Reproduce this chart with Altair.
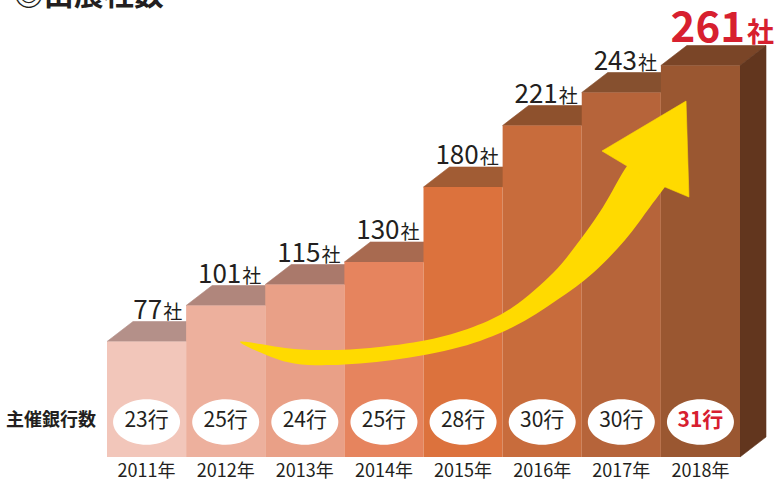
import altair as alt
import pandas as pd

# ---------------- data ----------------
years = ["2011年", "2012年", "2013年", "2014年", "2015年", "2016年", "2017年", "2018年"]
companies = [77, 101, 115, 130, 180, 221, 243, 261]
banks = [23, 25, 24, 25, 28, 30, 30, 31]
title_text = "◎出展社数"
bank_row_label = "主催銀行数"
company_unit = "社"
bank_unit = "行"

# decorative arrow outline, in chart units (bar index, company count)
# shaft: outer edge from tail into the head, then inner edge back
shaft_u = [1.681, 2.275, 2.818, 3.615, 4.461, 5.131, 5.687, 6.142, 6.547, 6.863, 7.052, 7.216,
           6.799, 6.572, 6.269, 5.978, 5.637, 5.131, 4.626, 4.044, 3.324, 2.692, 2.250]
shaft_v = [76.7, 63.3, 61.3, 64.7, 73.3, 86.7, 104.7, 122.7, 144.7, 166.7, 180.0, 192.7,
           206.0, 194.0, 166.7, 144.7, 122.7, 100.0, 86.7, 78.0, 72.7, 71.3, 72.7]
head_u = [7.052, 7.355, 7.318, 6.256, 6.572]
head_v = [180.0, 173.3, 237.3, 204.0, 194.0]

# ---------------- styles ----------------
front_colors = ["#F2C6BA", "#EDB09D", "#E9A087", "#E6845E", "#DC723D", "#C86C3C", "#B6643A", "#9A5731"]
top_colors = ["#B49089", "#B0867C", "#AA796B", "#A86A50", "#A15C34", "#8E512D", "#86502F", "#7A4527"]
side_color = "#62361E"
arrow_color = "#FFDA00"
red = "#D7202F"
ink = "#231F20"
FONT = "Noto Sans CJK JP"

# ---------------- geometry ----------------
W, H = 776, 481
X_PX0, BAR_PX, BASE_PX, PX_PER_UNIT = 107.0, 79.125, 457.0, 1.5
DEPTH_X = 26 / BAR_PX
DEPTH_Y = 20 / PX_PER_UNIT
xs = alt.Scale(domain=[-X_PX0 / BAR_PX, (W - X_PX0) / BAR_PX], nice=False, zero=False)
ys = alt.Scale(domain=[-(H - BASE_PX) / PX_PER_UNIT, BASE_PX / PX_PER_UNIT], nice=False, zero=False)


def X(f):
    return alt.X(f, type="quantitative", scale=xs, axis=None)


def Y(f):
    return alt.Y(f, type="quantitative", scale=ys, axis=None, stack=None)


def polygon(xs_, ys_, color, interp="linear-closed", sw=0.6):
    df = pd.DataFrame({"k": list(range(len(xs_))), "x": xs_, "y": ys_})
    return alt.Chart(df).mark_line(
        fill=color, stroke=color, strokeWidth=sw, interpolate=interp
    ).encode(x=X("x"), y=Y("y"), order="k:Q")


n = len(years)

# top faces and side face (3D look)
face_layers = []
for i, t in enumerate(companies):
    face_layers.append(polygon(
        [i, i + 1, i + 1 + DEPTH_X, i + DEPTH_X],
        [t, t, t + DEPTH_Y, t + DEPTH_Y],
        top_colors[i],
    ))
last_t = companies[-1]
face_layers.append(polygon(
    [n, n + DEPTH_X, n + DEPTH_X, n],
    [0, DEPTH_Y, last_t + DEPTH_Y, last_t],
    side_color,
))

# fronts
fronts = pd.DataFrame({
    "x": [i for i in range(n)],
    "x2": [i + 1 for i in range(n)],
    "y": [0] * n,
    "y2": companies,
    "fill": front_colors,
})
fronts_l = alt.Chart(fronts).mark_rect(opacity=1).encode(
    x=X("x"), x2="x2", y=Y("y"), y2="y2", fill=alt.Fill("fill:N", scale=None)
)

shaft_l = polygon(shaft_u, shaft_v, arrow_color, interp="cardinal-closed", sw=0)
head_l = polygon(head_u, head_v, arrow_color, interp="linear-closed", sw=0.6)

labels = pd.DataFrame({
    "x": [i + 1 - 0.29 for i in range(n)],
    "y": [t + DEPTH_Y + 2 for t in companies],
    "num": [str(c) for c in companies],
    "unit": [company_unit] * n,
    "last": [i == n - 1 for i in range(n)],
})
hl = pd.DataFrame({
    "x": [n + 0.088],
    "y": [companies[-1] + 15.7],
    "num": [str(companies[-1])],
    "unit": [company_unit],
})

bank_df = pd.DataFrame({
    "x": [i + 0.5 for i in range(n)],
    "y": [23.3] * n,
    "txt": [f"{b}{bank_unit}" for b in banks],
    "last": [i == n - 1 for i in range(n)],
})
year_df = pd.DataFrame({"x": [i + 0.5 for i in range(n)], "y": [-10.2] * n, "txt": years})
misc_df = pd.DataFrame({"x": [-1.2765], "y": [23.3], "txt": [bank_row_label]})
title_df = pd.DataFrame({"x": [-1.18], "y": [301.5], "txt": [title_text]})

ell_path = "M -1 0 A 1 0.68 0 1 0 1 0 A 1 0.68 0 1 0 -1 0 Z"

num_l = alt.Chart(labels).transform_filter("!datum.last").mark_text(
    font=FONT, fontSize=26, align="right", baseline="alphabetic", color=ink, dx=-1
).encode(x=X("x"), y=Y("y"), text="num:N")
unit_l = alt.Chart(labels).transform_filter("!datum.last").mark_text(
    font=FONT, fontSize=19, align="left", baseline="alphabetic", color=ink
).encode(x=X("x"), y=Y("y"), text="unit:N")
hnum_l = alt.Chart(hl).mark_text(
    font=FONT, fontSize=42, fontWeight="bold", align="right", baseline="alphabetic", color=red, dx=-2
).encode(x=X("x"), y=Y("y"), text="num:N")
hunit_l = alt.Chart(hl).mark_text(
    font=FONT, fontSize=27, fontWeight="bold", align="left", baseline="alphabetic", color=red
).encode(x=X("x"), y=Y("y"), text="unit:N")
ell_l = alt.Chart(bank_df).mark_point(
    shape=ell_path, filled=True, fill="white", opacity=1, size=67 * 67, strokeWidth=0
).encode(x=X("x"), y=Y("y"))
bank_l = alt.Chart(bank_df).transform_filter("!datum.last").mark_text(
    font=FONT, fontSize=21, align="center", baseline="middle", color=ink, dy=-1
).encode(x=X("x"), y=Y("y"), text="txt:N")
bankhl_l = alt.Chart(bank_df).transform_filter("datum.last").mark_text(
    font=FONT, fontSize=21, fontWeight="bold", align="center", baseline="middle", color=red, dy=-1
).encode(x=X("x"), y=Y("y"), text="txt:N")
year_l = alt.Chart(year_df).mark_text(
    font=FONT, fontSize=18, align="center", baseline="middle", color=ink
).encode(x=X("x"), y=Y("y"), text="txt:N")
misc_l = alt.Chart(misc_df).mark_text(
    font=FONT, fontSize=18, fontWeight="bold", align="left", baseline="middle", color=ink, dy=-1
).encode(x=X("x"), y=Y("y"), text="txt:N")
title_l = alt.Chart(title_df).mark_text(
    font=FONT, fontSize=30, fontWeight="bold", align="left", baseline="alphabetic", color=ink
).encode(x=X("x"), y=Y("y"), text="txt:N")

chart = alt.layer(
    *face_layers, fronts_l, shaft_l, head_l, num_l, unit_l, hnum_l, hunit_l,
    ell_l, bank_l, bankhl_l, year_l, misc_l, title_l
).properties(
    width=W, height=H, autosize=alt.AutoSizeParams(type="none"), padding=0, background="white"
).configure_view(stroke=None)

chart.save("out.html", embed_options={"renderer": "svg", "actions": False})
